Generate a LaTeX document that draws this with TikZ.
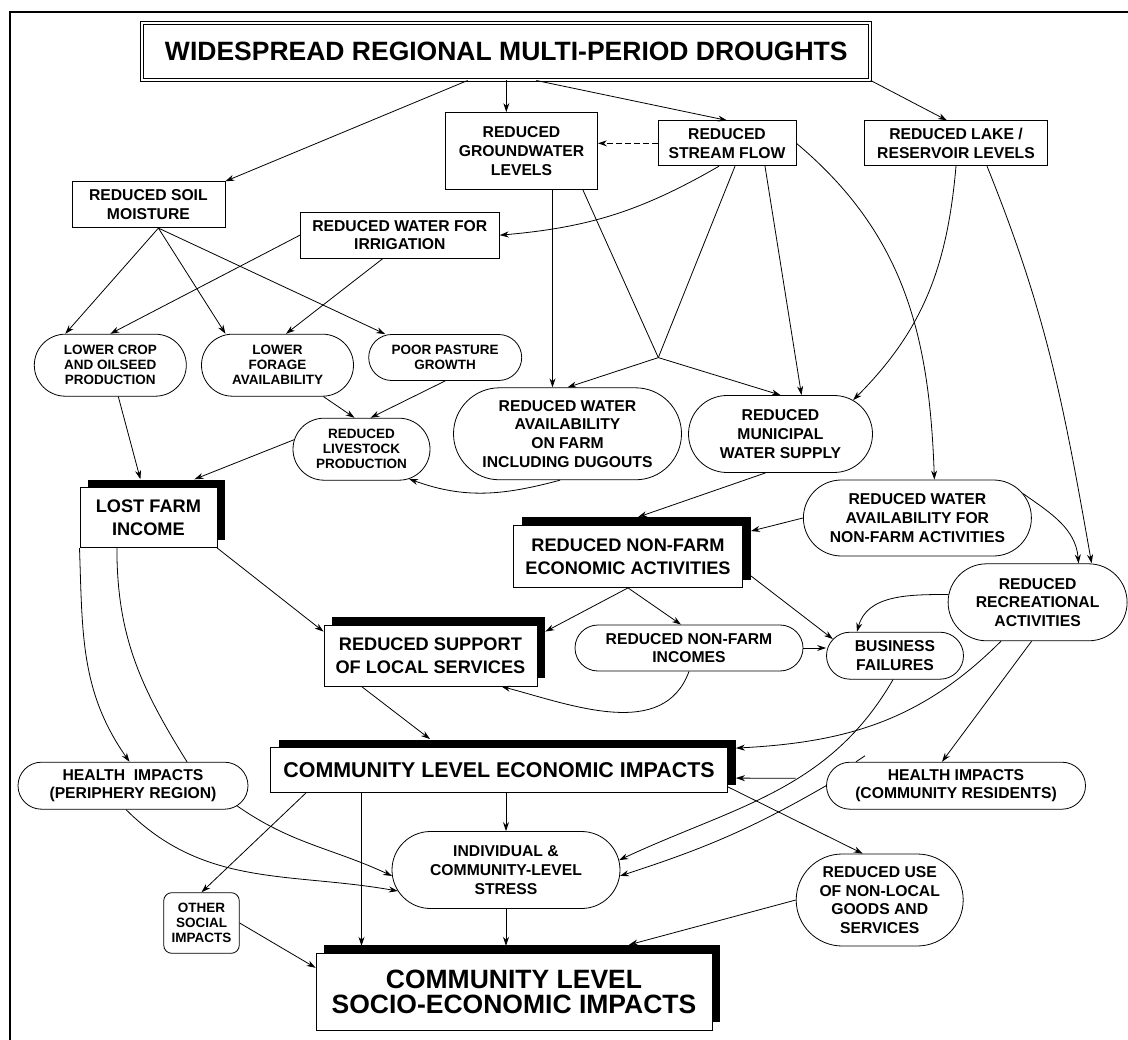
\documentclass[tikz,border=0pt]{standalone}
\usepackage{fontspec}
\setmainfont{Liberation Sans}
\usepackage{tikz}
\usetikzlibrary{arrows.meta, shapes.misc, shadows, calc, positioning}

\newcommand{\titlesize}{\fontsize{26.5}{28}\selectfont}
\newcommand{\sociosize}{\fontsize{26.5}{25}\selectfont}
\newcommand{\econsize}{\fontsize{21.4}{24}\selectfont}
\newcommand{\bigsize}{\fontsize{18.2}{22.5}\selectfont}
\newcommand{\medsize}{\fontsize{15.7}{18.7}\selectfont}
\newcommand{\smallsize}{\fontsize{13.5}{15}\selectfont}

\begin{document}
\begin{tikzpicture}[x=1pt, y=1pt, line width=0.8pt, >={Stealth[length=9pt,width=6pt]}]
			\tikzstyle{every node}=[font=\bfseries\medsize, align=center, inner sep=0pt, line width=0.8pt]
			\tikzstyle{box}=[draw, rectangle, fill=white]
			\tikzstyle{pill}=[draw, rounded rectangle, fill=white]
			\tikzstyle{bigbox}=[box, drop shadow={shadow xshift=8pt, shadow yshift=8pt, opacity=1, fill=black}]
			
			\useasboundingbox (0,0) rectangle (1128,-1040);
			\draw[line width=2pt] (9.7,-1040) -- (9.7,-12) -- (1128,-12);
			
			\node[box, double, double distance=2.2pt, minimum width=728pt, minimum height=57pt, font=\bfseries\titlesize] (drought) at (506.3,-51.6) {WIDESPREAD REGIONAL MULTI-PERIOD DROUGHTS};
			
			\node[box, minimum width=152pt, minimum height=77pt] (ground) at (521.5,-151) {REDUCED\\GROUNDWATER\\LEVELS};
			\node[box, minimum width=138pt, minimum height=45pt] (stream) at (727,-143.3) {REDUCED\\STREAM FLOW};
			\node[box, minimum width=183pt, minimum height=45pt] (lake) at (956,-143.3) {REDUCED LAKE /\\RESERVOIR LEVELS};
			\node[box, minimum width=153pt, minimum height=46pt] (soil) at (148.4,-204.7) {REDUCED SOIL\\MOISTURE};
			\node[box, minimum width=199pt, minimum height=46pt] (irrig) at (399.8,-235.2) {REDUCED WATER FOR\\IRRIGATION};
			
			\node[pill, minimum width=152pt, minimum height=62pt, font=\bfseries\smallsize] (crop) at (110.3,-365.2) {LOWER CROP\\AND OILSEED\\PRODUCTION};
			\node[pill, minimum width=152pt, minimum height=62pt, font=\bfseries\smallsize] (forage) at (277.5,-365.2) {LOWER\\FORAGE\\AVAILABILITY};
			\node[pill, minimum width=153pt, minimum height=46pt, font=\bfseries\smallsize] (pasture) at (445.2,-357.5) {POOR PASTURE\\GROWTH};
			\node[pill, minimum width=137pt, minimum height=62pt, font=\bfseries\smallsize] (livestock) at (361.5,-449.2) {REDUCED\\LIVESTOCK\\PRODUCTION};
			\node[pill, minimum width=228pt, minimum height=92pt] (onfarm) at (567.5,-433.8) {REDUCED WATER\\AVAILABILITY\\ON FARM\\INCLUDING DUGOUTS};
			\node[pill, minimum width=184pt, minimum height=77pt] (municipal) at (780.5,-434) {REDUCED\\MUNICIPAL\\WATER SUPPLY};
			\node[pill, minimum width=228pt, minimum height=76pt] (nonfarmwater) at (917.4,-518) {REDUCED WATER\\AVAILABILITY FOR\\NON-FARM ACTIVITIES};
			
			\node[bigbox, minimum width=137pt, minimum height=60pt, font=\bfseries\bigsize] (farmincome) at (148.4,-517.7) {LOST FARM\\INCOME};
			\node[bigbox, minimum width=229pt, minimum height=62pt, font=\bfseries\bigsize] (nonfarmecon) at (628,-556.5) {REDUCED NON-FARM\\ECONOMIC ACTIVITIES};
			\node[pill, minimum width=179pt, minimum height=77pt] (recreation) at (1037.6,-602.3) {REDUCED\\RECREATIONAL\\ACTIVITIES};
			\node[pill, minimum width=228pt, minimum height=46pt] (nonfarmincome) at (689,-648) {REDUCED NON-FARM\\INCOMES};
			\node[pill, minimum width=137pt, minimum height=47pt] (business) at (895,-655.7) {BUSINESS\\FAILURES};
			\node[bigbox, minimum width=213pt, minimum height=61pt, font=\bfseries\bigsize] (services) at (430.4,-655.5) {REDUCED SUPPORT\\OF LOCAL SERVICES};
			
			\node[bigbox, minimum width=457pt, minimum height=45pt, font=\bfseries\econsize] (commecon) at (499,-770) {COMMUNITY LEVEL ECONOMIC IMPACTS};
			\node[pill, minimum width=230pt, minimum height=47pt] (healthperi) at (133,-785.7) {HEALTH~~IMPACTS\\(PERIPHERY REGION)};
			\node[pill, minimum width=259pt, minimum height=47pt] (healthres) at (956,-785.7) {HEALTH IMPACTS\\(COMMUNITY RESIDENTS)};
			\node[pill, minimum width=228pt, minimum height=77pt] (stress) at (506,-870) {INDIVIDUAL \&\\COMMUNITY-LEVEL\\STRESS};
			\node[pill, minimum width=167pt, minimum height=92pt] (nonlocal) at (879.7,-900) {REDUCED USE\\OF NON-LOCAL\\GOODS AND\\SERVICES};
			\node[box, rounded corners=8pt, minimum width=75.5pt, minimum height=60.6pt, font=\bfseries\smallsize] (othersocial) at (201.5,-923) {OTHER\\SOCIAL\\IMPACTS};
			\node[bigbox, minimum width=396pt, minimum height=77pt, font=\bfseries\sociosize] (socio) at (514,-991.7) {COMMUNITY LEVEL\\SOCIO-ECONOMIC IMPACTS};
			
			\coordinate (fork) at (658.3,-357.6);
			
			\path[->]
			([xshift=-38.7pt]drought.south) edge (soil.north east)
			(drought.south) edge (drought.south |- ground.north)
			([xshift=30pt]drought.south) edge (stream.north)
			(drought.south east) edge ([xshift=-9pt]lake.north)
			;
			\path[->, dash pattern=on 6pt off 3pt] (stream.west) edge (stream.west -| ground.east);
			
			\path
			([xshift=8pt]stream.south) edge (fork)
			([xshift=-15pt]ground.south east) edge (fork)
			([xshift=-31.5pt]farmincome.south) edge[out=-90, in=122] ([xshift=54pt]healthperi.north)
			;
			\draw ([xshift=-100pt]healthres.north) -- ++(9,6);
			
			\path[->]
			([xshift=-8pt]stream.south) edge[out=210, in=5] (irrig.east)
			(fork) edge (onfarm.north)
			(fork) edge (municipal.north)
			([xshift=31pt]ground.south) edge ([xshift=-15pt]onfarm.north)
			([xshift=38pt]stream.south) edge ([xshift=21pt]municipal.north)
			(stream.east) edge[out=-40, in=92] ([xshift=17pt]nonfarmwater.north)
			(lake.south) edge[out=-95, in=45] (municipal.25)
			([xshift=31pt]lake.south) edge[out=-68, in=100] ([xshift=54pt]recreation.north)
			(nonfarmwater.13) edge[out=-35, in=95] ([xshift=41pt]recreation.north)
			
			([xshift=10pt]soil.south) edge ([xshift=-45pt]crop.north)
			([xshift=10pt]soil.south) edge ([xshift=-52pt]forage.north)
			([xshift=10pt]soil.south) edge ([xshift=-60pt]pasture.north)
			(irrig.west) edge (crop.north)
			([xshift=-17pt]irrig.south) edge ([xshift=8.5pt]forage.north)
			([xshift=46pt]forage.south) edge ([xshift=-7pt]livestock.north)
			(pasture.south) edge ([xshift=9pt]livestock.north)
			([xshift=8pt]crop.south) edge ([xshift=-8pt, yshift=8pt]farmincome.north)
			(livestock.172) edge ([xshift=46pt, yshift=8pt]farmincome.north)
			([xshift=-7.5pt]onfarm.south) edge[out=195, in=-20] (livestock.-32)
			
			(farmincome.south west) edge[out=-88, in=125] ([xshift=-3.5pt]healthperi.north)
			(farmincome.south east) edge ([yshift=-7pt]services.north west)
			
			([xshift=-15pt]municipal.south) edge ([xshift=10pt, yshift=8pt]nonfarmecon.north)
			(nonfarmwater.west) edge ([xshift=8pt, yshift=-6pt]nonfarmecon.north east)
			(nonfarmecon.south) edge ([xshift=8pt, yshift=-7pt]services.north east)
			(nonfarmecon.south) edge ([xshift=-8pt]nonfarmincome.north)
			([xshift=8pt, yshift=12pt]nonfarmecon.south east) edge (business.165)
			(nonfarmincome.east) edge (nonfarmincome.east -| business.west)
			(nonfarmincome.south) edge[out=250, in=-15] ([xshift=71pt]services.south)
			(recreation.175) edge[out=180, in=75] ([xshift=-38pt]business.north)
			([xshift=-36.6pt]recreation.south) edge[out=225, in=3] ([xshift=8pt, yshift=-1pt]commecon.north east)
			([xshift=-6pt]recreation.south) edge ([xshift=-14pt]healthres.north)
			([xshift=-69pt]services.south) edge ([xshift=-69pt, yshift=8pt]commecon.north)
			
			([xshift=-30.6pt, yshift=7.4pt]healthres.west) edge ([xshift=8pt, yshift=-31pt]commecon.north east)
			([xshift=-2pt]business.south) edge[out=240, in=25] (stress.5)
			(healthres.west) edge[out=210, in=18] (stress.-3)
			([xshift=-7pt]healthperi.south) edge[out=-45, in=170] (stress.191)
			(healthperi.-11) edge[out=-35, in=155] (stress.183)
			
			([yshift=6pt]commecon.south east) edge ([xshift=-17pt]nonlocal.north)
			([xshift=-193pt]commecon.south) edge (othersocial.north)
			([xshift=-137.5pt]commecon.south) edge ($(socio.north)+(-152.5,7)$)
			(stress.north |- commecon.south) edge (stress.north)
			(stress.south) edge ($(socio.north)+(-8,7)$)
			(othersocial.east) edge ([yshift=-15pt]socio.north west)
			(nonlocal.west) edge ($(socio.north)+(115,8)$)
			;
\end{tikzpicture}
\end{document}
